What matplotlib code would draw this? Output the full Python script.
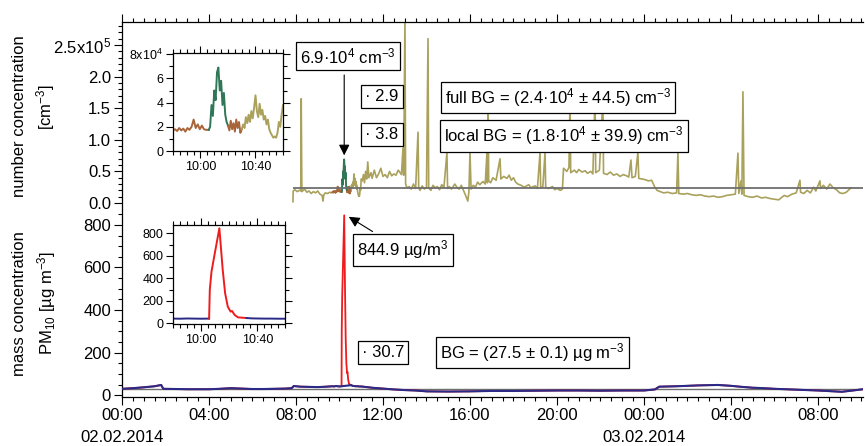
import numpy as np
import matplotlib
matplotlib.use('Agg')
import matplotlib.pyplot as plt
from matplotlib.ticker import MultipleLocator, FixedLocator, FixedFormatter, FuncFormatter

plt.rcParams['font.family'] = ['Liberation Sans', 'DejaVu Sans']
plt.rcParams['mathtext.default'] = 'regular'
plt.rcParams['font.size'] = 12

# ---------------- data ----------------
# number concentration, hours since 02.02.2014 00:00, units of 1e4 cm^-3
nc_pre_h = [7.86, 7.87, 7.95, 8.05, 8.15, 8.22, 8.24, 8.27, 8.4, 8.5, 8.6, 8.7, 8.8, 8.9,
            9.0, 9.1, 9.2, 9.24, 9.28, 9.35, 9.45, 9.55, 9.62]
nc_pre_v = [0.2, 1.9, 2.1, 1.8, 2.0, 1.9, 16.5, 1.8, 2.2, 1.7, 1.9, 1.5, 1.8, 1.6,
            1.9, 1.4, 1.2, 0.3, 1.3, 1.6, 1.5, 1.7, 1.6]
# inset window, minutes after 09:40
nc_brown1_m = [0, 1.5, 3, 4.5, 6, 7.5, 9, 10.5, 12, 13.5, 15, 16.5, 18, 19.5, 21, 22.5, 24, 26]
nc_brown1_v = [1.7, 1.8, 1.65, 1.9, 1.7, 1.85, 1.6, 1.9, 1.75, 2.0, 2.6, 1.9, 2.2, 1.8, 2.1, 1.8, 1.75, 1.75]
nc_green_m = [26, 27, 28, 29, 30, 31, 32, 33, 34, 35, 36, 37, 38, 39, 40]
nc_green_v = [1.75, 2.0, 3.8, 2.9, 5.0, 4.2, 6.5, 6.9, 5.0, 5.8, 3.8, 4.8, 3.0, 2.4, 2.1]
nc_brown2_m = [40, 41, 42, 43, 44, 45, 46, 47, 48, 49, 50]
nc_brown2_v = [2.1, 1.7, 2.5, 1.8, 2.3, 1.6, 2.6, 1.9, 2.4, 1.5, 1.8]
nc_olive_m = [50, 51, 52, 53, 54, 55, 56, 57, 58, 59, 60, 61, 62, 63, 64, 65, 66, 67, 68, 69,
              70, 71, 72, 73, 74, 75, 76, 77, 78, 79, 80]
nc_olive_v = [1.8, 2.2, 1.9, 2.8, 2.3, 3.0, 2.4, 3.3, 2.7, 3.6, 4.6, 3.3, 2.8, 3.9, 3.0, 3.4, 2.6, 2.9, 2.2, 2.6,
              1.8, 1.5, 1.3, 1.1, 1.2, 1.1, 1.5, 2.4, 2.0, 3.0, 3.8]
nc_post_h = [11.05, 11.1, 11.15, 11.2, 11.25, 11.3, 11.35, 11.45, 11.5, 11.6, 11.7, 11.8, 11.9, 12.0,
             12.1, 12.2, 12.3, 12.4, 12.5, 12.6, 12.7, 12.85, 12.92, 12.95, 13.01, 13.04, 13.1, 13.2,
             13.3, 13.4, 13.5, 13.61, 13.64, 13.7, 13.8, 13.9, 14.0, 14.07, 14.1, 14.2, 14.3, 14.4,
             14.5, 14.6, 14.7, 14.8, 14.94, 14.97, 15.05, 15.15, 15.3, 15.4, 15.5, 15.6, 15.7, 15.8,
             15.9, 15.95, 16.0, 16.05, 16.15, 16.25, 16.35, 16.45, 16.6, 16.7, 16.78, 16.8, 16.83,
             16.86, 16.95, 17.05, 17.2, 17.38, 17.42, 17.55, 17.7, 17.8, 17.9, 18.0, 18.1, 18.2,
             18.35, 18.5, 18.7, 18.8, 18.9, 19.0, 19.1, 19.22, 19.25, 19.35, 19.45, 19.48, 19.6,
             19.8, 19.9, 20.0, 20.15, 20.25, 20.3, 20.45, 20.55, 20.6, 20.63, 20.8, 20.9, 21.0,
             21.15, 21.3, 21.4, 21.55, 21.65, 21.75, 21.78, 21.95, 22.11, 22.14, 22.3, 22.45, 22.6,
             22.75, 22.9, 23.05, 23.2, 23.3, 23.4, 23.45, 23.6, 23.72, 23.76, 23.9, 24.05, 24.2,
             24.35, 24.5, 24.6, 24.75, 24.9, 25.1, 25.3, 25.5, 25.56, 25.6, 25.8, 26.0, 26.2, 26.4,
             26.6, 26.8, 27.0, 27.2, 27.4, 27.6, 27.8, 28.0, 28.2, 28.32, 28.36, 28.46, 28.5, 28.55,
             28.6, 28.8, 29.0, 29.2, 29.4, 29.6, 29.8, 30.0, 30.2, 30.3, 30.45, 30.6, 30.8, 31.0,
             31.17, 31.2, 31.35, 31.5, 31.65, 31.8, 31.9, 32.09, 32.12, 32.25, 32.4, 32.55, 32.7,
             32.85, 33.0, 33.15, 33.3, 33.52]
nc_post_v = [3.5, 4.5, 3.2, 5.0, 3.8, 6.5, 4.0, 4.8, 3.9, 5.2, 4.0, 4.6, 5.5, 4.2,
             4.5, 4.0, 5.0, 4.3, 4.6, 4.4, 5.2, 4.5, 8.7, 4.4, 29.5, 3.0, 2.4, 2.6,
             2.2, 3.0, 2.3, 11.2, 2.5, 2.0, 2.7, 2.2, 2.5, 26.0, 2.4, 2.0, 2.8, 2.4,
             2.6, 2.1, 2.9, 2.4, 8.0, 2.3, 2.6, 2.2, 3.0, 2.5, 2.2, 2.8, 2.0, 1.2,
             0.3, 1.8, 8.0, 2.2, 2.8, 2.5, 3.3, 2.9, 3.4, 3.0, 8.0, 3.2, 17.0,
             3.5, 3.2, 4.0, 3.6, 7.0, 3.8, 4.2, 3.9, 4.4, 3.6, 4.0, 3.3, 3.0,
             2.8, 2.5, 2.9, 2.4, 2.6, 2.7, 2.3, 8.0, 2.4, 2.6, 8.0, 2.5, 2.3,
             2.6, 2.1, 2.3, 2.0, 2.2, 5.5, 5.0, 5.6, 17.0, 4.8, 5.2, 4.8, 5.3,
             4.9, 5.1, 4.7, 5.0, 4.6, 17.0, 4.8, 5.2, 16.5, 4.7, 4.5, 4.9, 4.4,
             4.6, 4.2, 4.5, 4.3, 4.1, 6.8, 4.0, 4.2, 8.0, 3.9, 3.8, 3.7, 3.5,
             3.6, 2.5, 2.0, 1.8, 1.6, 1.7, 1.5, 1.6, 8.0, 1.5, 1.4, 1.5, 1.3, 1.2,
             1.3, 1.1, 1.0, 1.1, 0.9, 1.0, 1.2, 1.3, 1.4, 7.9, 1.5, 3.5, 1.4, 17.6,
             1.2, 1.0, 0.9, 1.1, 0.8, 0.9, 0.7, 0.6, 0.5, 0.8, 1.2, 1.0, 1.4, 1.6,
             3.6, 1.7, 1.5, 2.0, 1.6, 2.5, 1.9, 3.5, 2.3, 2.8, 2.2, 3.0, 2.4,
             2.1, 1.6, 1.5, 1.7, 2.4]
nc_full_bg = 2.4  # 1e4 cm^-3

# PM10 mass concentration (ug m^-3), hours since 02.02.2014 00:00
pm_pre_h = [0, 0.5, 1.0, 1.5, 1.75, 1.8, 1.9, 2.5, 3.0, 3.5, 4.0, 4.5, 5.0, 5.5, 6.0, 6.5, 7.0,
            7.5, 7.8, 7.9, 8.2, 8.6, 9.0, 9.4]
pm_pre_v = [30, 33, 37, 42, 47, 48, 30, 29, 28, 28, 28, 30, 33, 31, 29, 29, 30,
            31, 33, 43, 40, 39, 38, 40]
# inset window, minutes after 09:40
pm_blue1_m = [0, 5, 10, 15, 20, 25.7]
pm_blue1_v = [42, 41, 43, 42, 41, 42]
pm_red_m = [25.7, 26.2, 27.4, 29.3, 33.0, 35.4, 37.1, 39.0, 41.0, 42.0, 43.9, 46.3, 52.4]
pm_red_v = [42, 300, 459, 592, 845, 474, 267, 148, 104, 110, 74, 53, 47]
pm_blue2_m = [52.4, 56, 60, 65, 70, 75, 80]
pm_blue2_v = [47, 44, 43, 42, 42, 41, 41]
pm_post_h = [11.5, 12.0, 12.5, 13.0, 13.5, 14.0, 15.0, 16.0, 17.0, 18.0, 19.0, 20.0, 21.0, 22.0,
             23.0, 24.0, 24.5, 24.7, 25.5, 26.5, 27.4, 28.0, 28.4, 29.0, 29.3, 30.0, 31.0, 32.0,
             33.1, 33.6, 34.07]
pm_post_v = [35, 31, 27, 24, 22, 18, 17, 18, 20, 20, 21, 22, 22, 21,
             22, 22, 27, 40, 42, 46, 48, 44, 40, 35, 34, 30, 26, 22,
             16, 22, 28]
pm_bg = 27.5

x_max = 34.07
inset_start = 9 + 40 / 60.0

# --------------- helpers ---------------
def m2h(m):
    return inset_start + np.asarray(m) / 60.0

c_olive = '#A9A15C'
c_green = '#2F7757'
c_brown = '#A8653A'
c_red = '#EE1C1C'
c_blue = '#2A2A88'

fig = plt.figure(figsize=(8.65, 4.46), dpi=100)
L = 122 / 865
W = 741 / 865
ax1 = fig.add_axes([L, 1 - 209 / 446, W, 187 / 446])
ax2 = fig.add_axes([L, 1 - 397 / 446, W, 187 / 446])

# ------- top panel -------
t_all = np.concatenate([nc_pre_h, m2h(nc_brown1_m), m2h(nc_green_m), m2h(nc_brown2_m),
                        m2h(nc_olive_m), nc_post_h])
v_all = np.concatenate([nc_pre_v, nc_brown1_v, nc_green_v, nc_brown2_v, nc_olive_v, nc_post_v]) * 1e4
ax1.plot(t_all, v_all, color=c_olive, lw=1.2, zorder=2)
ax1.plot(m2h(nc_brown1_m), np.array(nc_brown1_v) * 1e4, color=c_brown, lw=1.2, zorder=3)
ax1.plot(m2h(nc_brown2_m), np.array(nc_brown2_v) * 1e4, color=c_brown, lw=1.2, zorder=3)
ax1.plot(m2h(nc_green_m), np.array(nc_green_v) * 1e4, color=c_green, lw=1.3, zorder=3)
ax1.hlines(nc_full_bg * 1e4, t_all[0], x_max, color='#6E6E6E', lw=1.3, zorder=4)

ax1.set_xlim(0, x_max)
ax1.set_ylim(-0.095e5, 2.864e5)
for s in ['bottom', 'right']:
    ax1.spines[s].set_visible(False)
ax1.xaxis.set_major_locator(MultipleLocator(4))
ax1.xaxis.set_minor_locator(MultipleLocator(0.5))
ax1.tick_params(axis='x', which='both', top=True, bottom=False, labeltop=False,
                labelbottom=False, direction='out')
ax1.yaxis.set_major_locator(FixedLocator([0, 0.5e5, 1.0e5, 1.5e5, 2.0e5, 2.5e5]))
ax1.yaxis.set_major_formatter(FixedFormatter(['0.0', '0.5', '1.0', '1.5', '2.0', '2.5x10$^5$']))
ax1.yaxis.set_minor_locator(MultipleLocator(1e4))

# annotations top
gi = int(np.argmax(nc_green_v))
pk_h = m2h(nc_green_m)[gi]
pk_v = nc_green_v[gi] * 1e4
box = dict(boxstyle='square,pad=0.25', fc='white', ec='black', lw=0.9)
ax1.annotate('', xy=(pk_h, pk_v + 0.2e4), xytext=(pk_h, 2.07e5),
             arrowprops=dict(arrowstyle='-|>', color='black', lw=0.8, mutation_scale=16), zorder=5)
ax1.text(10.41, 2.325e5, '6.9·10$^4$ cm$^{-3}$', ha='center', va='center', bbox=box, zorder=6)
ax1.text(11.95, 1.69e5, '· 2.9', ha='center', va='center', bbox=box, zorder=6)
ax1.text(11.95, 1.08e5, '· 3.8', ha='center', va='center', bbox=box, zorder=6)
ax1.text(20.05, 1.67e5, 'full BG = (2.4·10$^4$ ± 44.5) cm$^{-3}$', ha='center', va='center',
         bbox=box, zorder=6)
ax1.text(20.32, 1.06e5, 'local BG = (1.8·10$^4$ ± 39.9) cm$^{-3}$', ha='center', va='center',
         bbox=box, zorder=6)

# ------- bottom panel -------
red_t = np.concatenate([pm_pre_h, m2h(pm_blue1_m), m2h(pm_red_m), m2h(pm_blue2_m), pm_post_h])
red_v = np.concatenate([pm_pre_v, pm_blue1_v, pm_red_v, pm_blue2_v, pm_post_v])
blue_t = np.concatenate([pm_pre_h, m2h(pm_blue1_m), m2h(pm_blue2_m), pm_post_h])
blue_v = np.concatenate([pm_pre_v, pm_blue1_v, pm_blue2_v, pm_post_v])
ax2.axhline(pm_bg, color='#6E6E6E', lw=1.0, zorder=1)
ax2.plot(red_t, red_v, color=c_red, lw=1.3, zorder=2)
ax2.plot(blue_t, blue_v, color=c_blue, lw=1.5, zorder=3)

ax2.set_xlim(0, x_max)
ax2.set_ylim(-8.5, 870)
for s in ['top', 'right']:
    ax2.spines[s].set_visible(False)
ax2.xaxis.set_major_locator(MultipleLocator(4))
ax2.xaxis.set_minor_locator(MultipleLocator(0.5))

def xfmt(h, pos):
    hh = int(round(h)) % 24
    s = '%02d:00' % hh
    if abs(h - 0) < 1e-6:
        s += '\n02.02.2014'
    elif abs(h - 24) < 1e-6:
        s += '\n03.02.2014'
    return s

ax2.xaxis.set_major_formatter(FuncFormatter(xfmt))
ax2.yaxis.set_major_locator(MultipleLocator(200))
ax2.yaxis.set_minor_locator(MultipleLocator(50))

ri = int(np.argmax(pm_red_v))
rpk_h = m2h(pm_red_m)[ri]
rpk_v = pm_red_v[ri]
ax2.annotate('', xy=(rpk_h + 0.1, rpk_v), xytext=(11.63, 762),
             arrowprops=dict(arrowstyle='-|>', color='black', lw=0.8, mutation_scale=16), zorder=5)
ax2.text(12.9, 682, '844.9 µg/m$^3$', ha='center', va='center', bbox=box, zorder=6)
ax2.text(12.0, 200.7, '· 30.7', ha='center', va='center', bbox=box, zorder=6)
ax2.text(18.87, 200.7, 'BG = (27.5 ± 0.1) µg m$^{-3}$', ha='center', va='center', bbox=box, zorder=6)

for ax in (ax1, ax2):
    ax.tick_params(which='major', length=6, width=0.8, labelsize=12, pad=2)
    ax.tick_params(which='minor', length=3, width=0.8)
    ax.tick_params(axis='y', which='both', direction='out')
    for s in ax.spines.values():
        s.set_linewidth(0.9)
for lab in ax2.get_xticklabels():
    lab.set_linespacing(1.55)

# y labels
fig.text(20 / 865, 1 - 116 / 446, 'number concentration', rotation=90, ha='center', va='center', fontsize=12)
fig.text(46 / 865, 1 - 107 / 446, '[cm$^{-3}$]', rotation=90, ha='center', va='center', fontsize=12)
fig.text(20 / 865, 1 - 304 / 446, 'mass concentration', rotation=90, ha='center', va='center', fontsize=12)
fig.text(47 / 865, 1 - 303 / 446, 'PM$_{10}$ [µg m$^{-3}$]', rotation=90, ha='center', va='center', fontsize=12)

# ------- insets -------
ins1 = fig.add_axes([173 / 865, 1 - 151 / 446, 110 / 865, 98 / 446])
ins1.plot(m2h(nc_brown1_m), np.array(nc_brown1_v) * 1e4, color=c_brown, lw=1.4)
ins1.plot(m2h(nc_green_m), np.array(nc_green_v) * 1e4, color=c_green, lw=1.4)
ins1.plot(m2h(nc_brown2_m), np.array(nc_brown2_v) * 1e4, color=c_brown, lw=1.4)
ins1.plot(m2h(nc_olive_m), np.array(nc_olive_v) * 1e4, color=c_olive, lw=1.4)
ins1.set_ylim(0, 8.1e4)
ins1.yaxis.set_major_locator(FixedLocator([0, 2e4, 4e4, 6e4, 8e4]))
ins1.yaxis.set_major_formatter(FixedFormatter(['0', '2', '4', '6', '8x10$^4$']))
ins1.yaxis.set_minor_locator(MultipleLocator(1e4))

ins2 = fig.add_axes([173 / 865, 1 - 324 / 446, 112.4 / 865, 99 / 446])
ins2.plot(m2h(pm_blue1_m), pm_blue1_v, color=c_blue, lw=1.4)
ins2.plot(m2h(pm_red_m), pm_red_v, color=c_red, lw=1.4)
ins2.plot(m2h(pm_blue2_m), pm_blue2_v, color=c_blue, lw=1.4)
ins2.set_ylim(-6, 874)
ins2.yaxis.set_major_locator(MultipleLocator(200))
ins2.yaxis.set_minor_locator(MultipleLocator(100))

for ins in (ins1, ins2):
    ins.set_facecolor('white')
    ins.set_xlim(inset_start, 11.0)
    ins.xaxis.set_major_locator(FixedLocator([10.0, 10 + 40 / 60.0]))
    ins.xaxis.set_major_formatter(FixedFormatter(['10:00', '10:40']))
    ins.xaxis.set_minor_locator(MultipleLocator(5 / 60.0))
    ins.tick_params(which='both', direction='out', top=True, right=True, labelsize=9, pad=2)
    ins.tick_params(which='major', length=5, width=0.8)
    ins.tick_params(which='minor', length=3, width=0.8)
    for s in ins.spines.values():
        s.set_linewidth(0.9)

fig.savefig('out.png', dpi=100)
